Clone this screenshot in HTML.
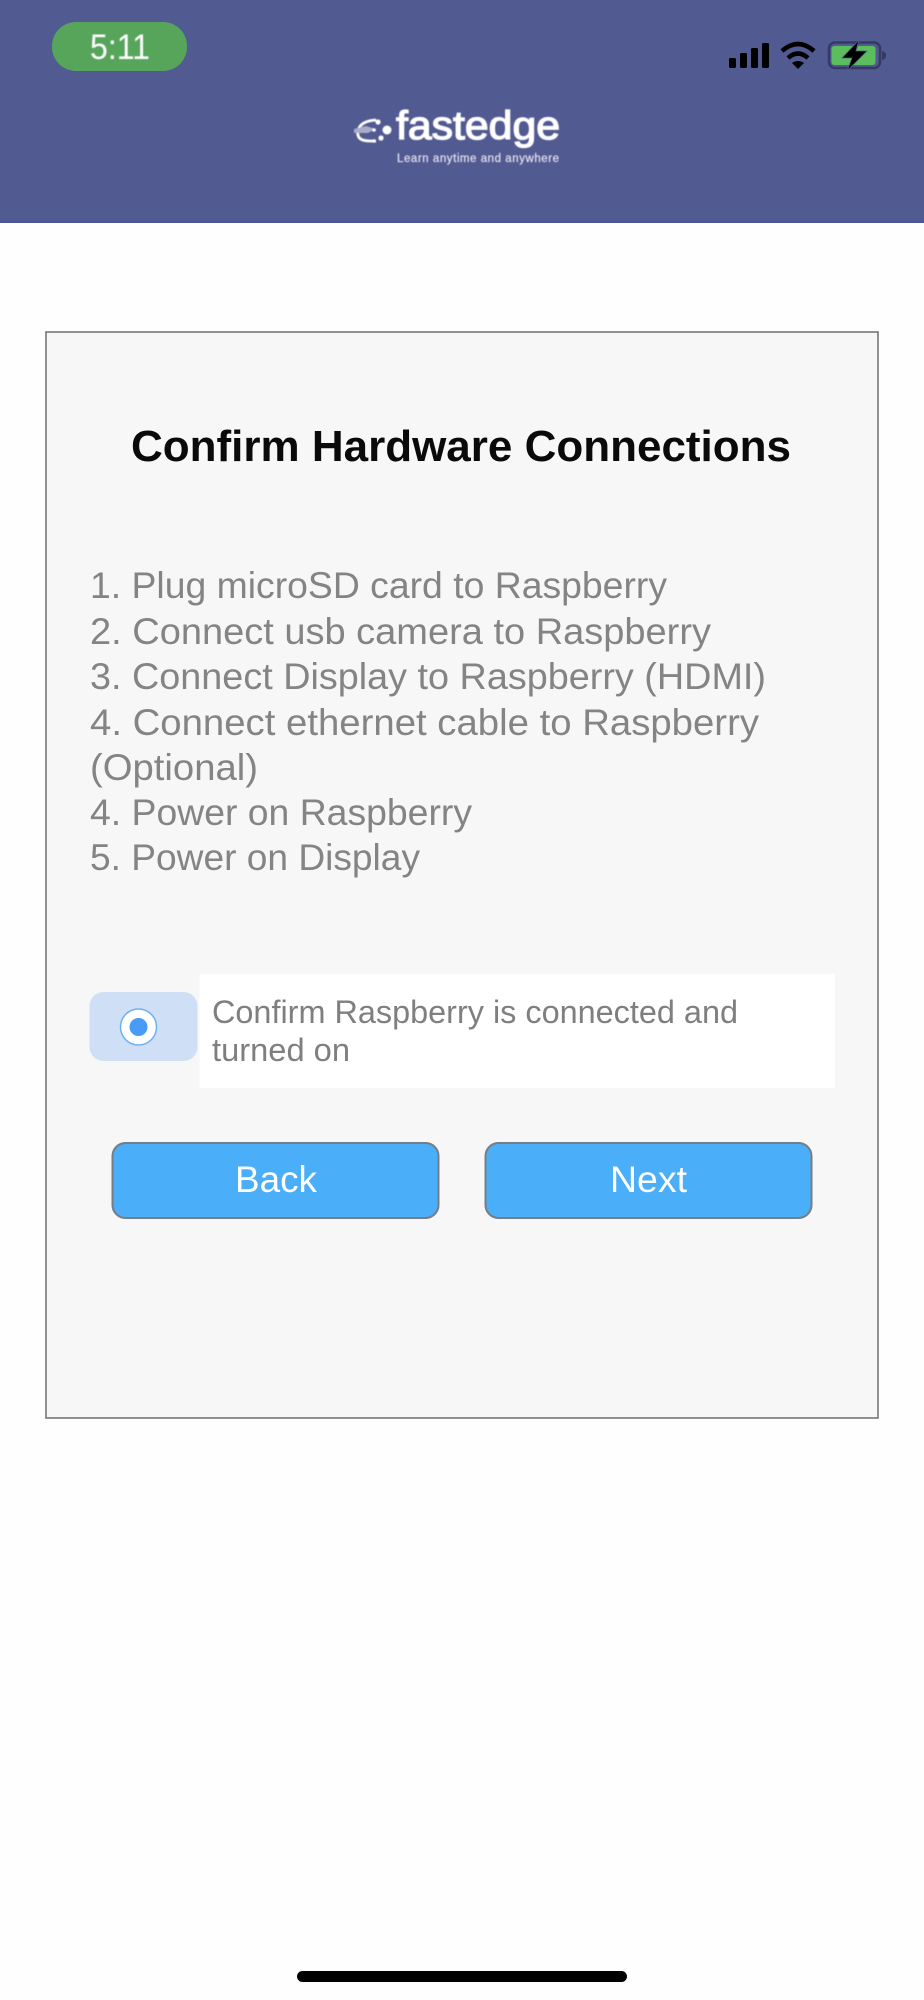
<!DOCTYPE html>
<html lang="en">
<head>
<meta charset="utf-8">
<title>Confirm Hardware Connections</title>
<style>
html,body{margin:0;padding:0;background:#fff}
body{width:924px;height:2000px;overflow:hidden}
svg{display:block;font-family:"Liberation Sans",sans-serif}
</style>
</head>
<body>
<svg width="924" height="2000" viewBox="0 0 924 2000" xmlns="http://www.w3.org/2000/svg">
  <defs>
    <filter id="b" x="-5%" y="-20%" width="110%" height="140%"><feGaussianBlur stdDeviation="0.5"/></filter>
  </defs>
  <rect width="924" height="2000" fill="#fefefe"/>

  <!-- Header -->
  <rect width="924" height="223" fill="#525a92"/>
  <rect y="221.500" width="924" height="1.500" fill="#4a5596"/>

  <!-- Time pill -->
  <rect x="52" y="22" width="135" height="49" rx="24" fill="#57a55b"/>
  <text x="90" y="59" font-size="35" fill="#fff" textLength="60" lengthAdjust="spacingAndGlyphs" filter="url(#b)">5:11</text>

  <!-- Signal -->
  <g fill="#000">
    <rect x="729" y="58" width="7" height="10" rx="1.500"/>
    <rect x="740" y="53" width="7" height="15" rx="1.500"/>
    <rect x="751" y="48" width="7" height="20" rx="1.500"/>
    <rect x="762" y="43" width="7" height="25" rx="1.500"/>
  </g>
  <!-- Wifi -->
  <g fill="none" stroke="#000" stroke-width="4.500">
    <path d="M782 51 Q798 37 814 51"/>
    <path d="M788 58 Q798 49 808 58"/>
  </g>
  <path d="M792 63 Q798 59 804 63 L798 69 Z" fill="#000"/>
  <!-- Battery -->
  <rect x="829" y="42.500" width="51" height="25.500" rx="6" fill="none" stroke="#363963" stroke-width="2.500"/>
  <rect x="831.500" y="46" width="44" height="19" rx="3" fill="#5cbd5f"/>
  <path d="M882 51 Q886 52 886 55.500 Q886 59 882 60 Z" fill="#363963"/>
  <path d="M859 40 L842 58 H852 L847 71 L867 51 H856 Z" fill="#000" stroke="#525a92" stroke-width="0.800"/>

  <!-- Logo -->
  <g filter="url(#b)">
    <text x="396" y="139" font-size="40" font-weight="400" fill="#fff" stroke="#fff" stroke-width="1.300" textLength="164" lengthAdjust="spacingAndGlyphs">fastedge</text>
    <text x="397" y="162" font-size="11.500" fill="#e3e5f0" stroke="#e3e5f0" stroke-width="0.200" textLength="162" lengthAdjust="spacing">Learn anytime and anywhere</text>
    <path d="M376 120 Q360 121 358 131 Q356 141 370 141 H376" fill="none" stroke="#fff" stroke-width="2.800"/>
    <path d="M354 129 L366 126 L375 129 L368 133 H354 Z" fill="#a9adc9"/>
    <circle cx="387" cy="130" r="4.500" fill="#fff"/>
    <circle cx="378" cy="122" r="2.600" fill="#fff"/>
    <circle cx="381" cy="138" r="2.600" fill="#fff"/>
    <circle cx="374" cy="130" r="1.800" fill="#fff"/>
    <circle cx="374" cy="141" r="1.800" fill="#fff"/>
  </g>

  <!-- Card -->
  <rect x="46" y="332" width="832" height="1086" fill="#f7f7f7" stroke="#767676" stroke-width="1.600"/>

  <!-- Title -->
  <text x="131" y="461" font-size="44" font-weight="700" fill="#0a0a0a" textLength="660" lengthAdjust="spacingAndGlyphs">Confirm Hardware Connections</text>

  <!-- List -->
  <g font-size="37" fill="#848484">
    <text x="90" y="598" textLength="577" lengthAdjust="spacingAndGlyphs">1. Plug microSD card to Raspberry</text>
    <text x="90" y="644" textLength="621" lengthAdjust="spacingAndGlyphs">2. Connect usb camera to Raspberry</text>
    <text x="90" y="689" textLength="676" lengthAdjust="spacingAndGlyphs">3. Connect Display to Raspberry (HDMI)</text>
    <text x="90" y="735" textLength="669" lengthAdjust="spacingAndGlyphs">4. Connect ethernet cable to Raspberry</text>
    <text x="90" y="780" textLength="168" lengthAdjust="spacingAndGlyphs">(Optional)</text>
    <text x="90" y="825" textLength="382" lengthAdjust="spacingAndGlyphs">4. Power on Raspberry</text>
    <text x="90" y="870" textLength="330" lengthAdjust="spacingAndGlyphs">5. Power on Display</text>
  </g>

  <!-- Radio -->
  <rect x="89.500" y="992" width="108" height="69" rx="14" fill="#cfdff5"/>
  <circle cx="138.500" cy="1027" r="18" fill="#fff" stroke="#6eb0f8" stroke-width="1.500"/>
  <circle cx="138.500" cy="1027" r="9" fill="#489cf7"/>

  <!-- Confirm label -->
  <rect x="199.500" y="974" width="635.500" height="114" fill="#ffffff"/>
  <g font-size="32" fill="#7f7f7f">
    <text x="212" y="1023" textLength="526" lengthAdjust="spacingAndGlyphs">Confirm Raspberry is connected and</text>
    <text x="212" y="1061" textLength="138" lengthAdjust="spacingAndGlyphs">turned on</text>
  </g>

  <!-- Buttons -->
  <rect x="112.500" y="1143" width="326" height="75" rx="13" fill="#4aaef9" stroke="#767d84" stroke-width="2"/>
  <rect x="485.500" y="1143" width="326" height="75" rx="13" fill="#4aaef9" stroke="#767d84" stroke-width="2"/>
  <text x="235" y="1192" font-size="37" fill="#fff" textLength="82" lengthAdjust="spacingAndGlyphs">Back</text>
  <text x="610" y="1192" font-size="37" fill="#fff" textLength="77" lengthAdjust="spacingAndGlyphs">Next</text>

  <!-- Home indicator -->
  <rect x="297" y="1971" width="330" height="11" rx="5.500" fill="#000"/>
</svg>
</body>
</html>
